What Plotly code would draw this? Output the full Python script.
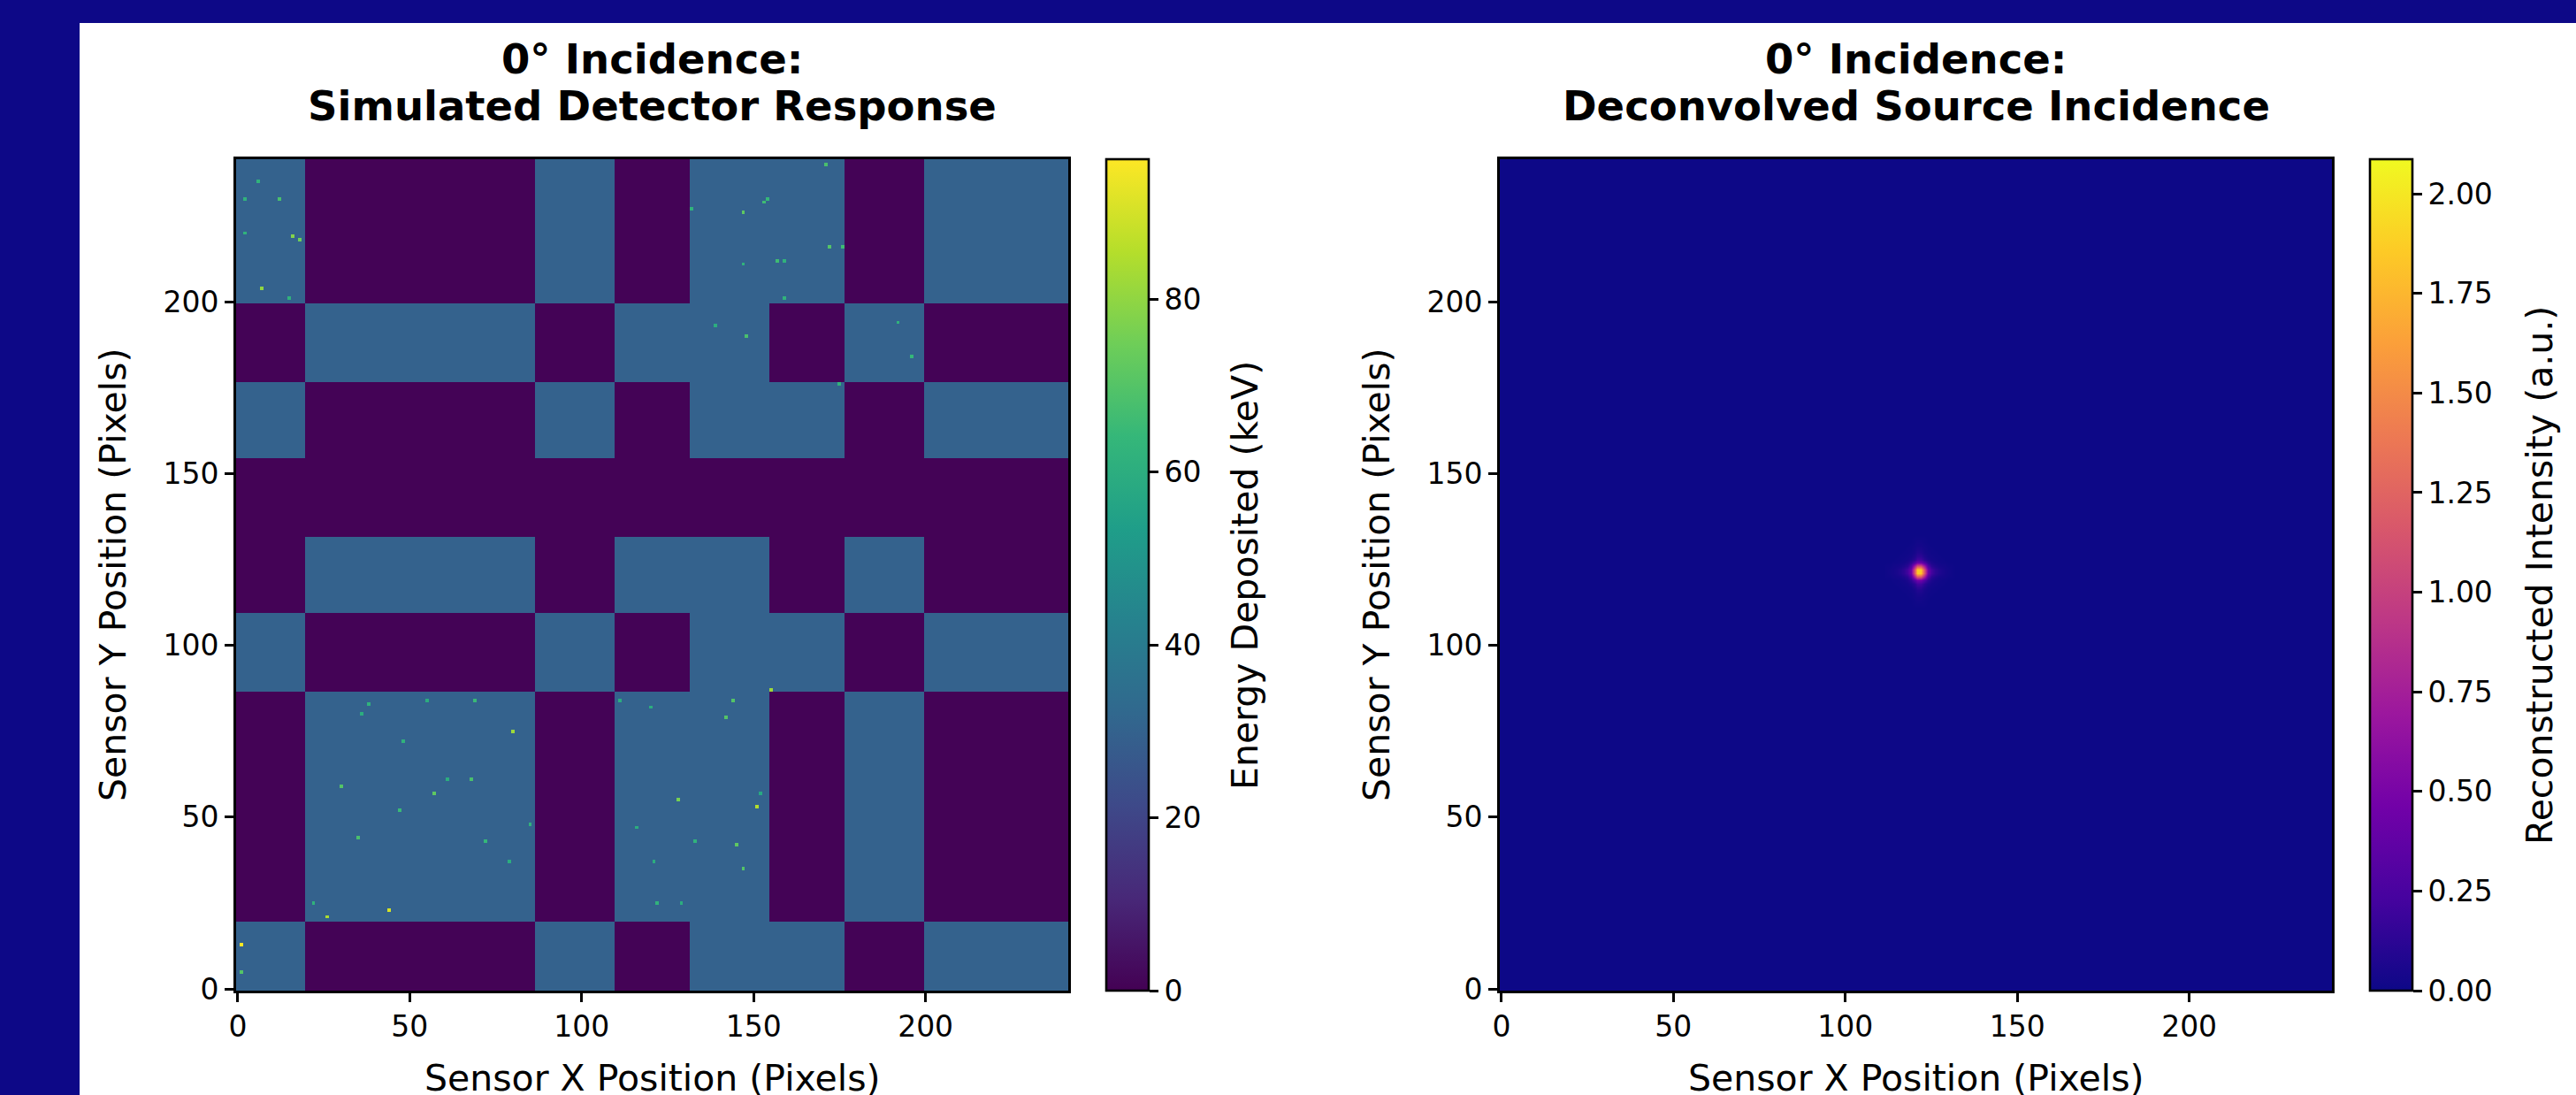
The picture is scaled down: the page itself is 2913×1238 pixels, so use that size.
import plotly.graph_objects as go

# NOTE: the per-pixel noise of the detector image is not reproduced. The left panel
# is drawn from the mask block pattern with estimated mean levels, plus the hot
# pixels that could be read individually from the reference.
N_PIXELS = 242
BAND_EDGES_X = [0, 20, 87, 110, 132, 155, 177, 200, 242]
BAND_EDGES_Y = [0, 20, 87, 110, 132, 155, 177, 200, 242]
MASK_ROWS = [
    [1, 0, 1, 0, 1, 1, 0, 1],
    [0, 1, 0, 1, 1, 0, 1, 0],
    [1, 0, 1, 0, 1, 1, 0, 1],
    [0, 1, 0, 1, 1, 0, 1, 0],
    [0, 0, 0, 0, 0, 0, 0, 0],
    [1, 0, 1, 0, 1, 1, 0, 1],
    [0, 1, 0, 1, 1, 0, 1, 0],
    [1, 0, 1, 0, 1, 1, 0, 1],
]
OPEN_LEVEL_KEV = 30
CLOSED_LEVEL_KEV = 0.6
HOT_X = [44, 26, 80, 68, 57, 30, 47, 48, 38, 55, 69, 72, 85, 22, 36, 61, 35, 79,
         151, 128, 145, 142, 144, 147, 155, 133, 122, 129, 111, 120, 152, 116, 121,
         147, 171, 153, 154, 172, 176, 157, 159, 159, 148, 139, 196, 192, 175, 132, 147,
         16, 18, 7, 2, 12, 6, 2, 15, 1, 1]
HOT_Y = [23, 21, 75, 61, 57, 59, 52, 72, 83, 84, 84, 43, 48, 25, 80, 61, 44, 37,
         53, 55, 42, 79, 84, 35, 87, 43, 25, 25, 84, 82, 57, 47, 37,
         226, 240, 229, 230, 216, 216, 212, 212, 201, 190, 193, 184, 194, 176, 227, 211,
         219, 218, 204, 230, 230, 235, 220, 201, 13, 5]
HOT_KEV = [90, 84, 82, 68, 72, 70, 65, 62, 62, 60, 65, 64, 62, 62, 60, 60, 68, 60,
           85, 76, 72, 70, 70, 70, 82, 62, 62, 60, 60, 60, 58, 60, 60,
           72, 68, 66, 64, 70, 66, 66, 62, 62, 68, 60, 64, 62, 62, 62, 62,
           78, 75, 80, 62, 68, 62, 62, 62, 96, 70]

PEAK_CELLS = [121, 122]
PSF_QUADRANT = [
    [1.85, 1.15, 0.45, 0.22, 0.13, 0.08, 0.05, 0.03, 0.02, 0.01],
    [1.15, 0.75, 0.28, 0.12, 0.07, 0.04, 0.03, 0.02, 0.01, 0.01],
    [0.45, 0.28, 0.13, 0.06, 0.03, 0.02, 0.01, 0.01, 0.00, 0.00],
    [0.22, 0.12, 0.06, 0.03, 0.02, 0.01, 0.01, 0.00, 0.00, 0.00],
    [0.13, 0.07, 0.03, 0.02, 0.01, 0.01, 0.00, 0.00, 0.00, 0.00],
    [0.08, 0.04, 0.02, 0.01, 0.01, 0.00, 0.00, 0.00, 0.00, 0.00],
    [0.05, 0.03, 0.01, 0.01, 0.00, 0.00, 0.00, 0.00, 0.00, 0.00],
    [0.03, 0.02, 0.01, 0.00, 0.00, 0.00, 0.00, 0.00, 0.00, 0.00],
    [0.02, 0.01, 0.00, 0.00, 0.00, 0.00, 0.00, 0.00, 0.00, 0.00],
    [0.01, 0.01, 0.00, 0.00, 0.00, 0.00, 0.00, 0.00, 0.00, 0.00],
]
TICKS = [0, 50, 100, 150, 200]
CB1_TICKS = [0, 20, 40, 60, 80]
CB2_TICKS = [0, 0.25, 0.5, 0.75, 1.0, 1.25, 1.5, 1.75, 2.0]
ZMAX_LEFT = 96.2
ZMAX_RIGHT = 2.087

pixels = list(range(N_PIXELS))

# Detector image
det = [[CLOSED_LEVEL_KEV] * N_PIXELS for _ in pixels]
for r, row in enumerate(MASK_ROWS):
    for c, is_open in enumerate(row):
        if is_open:
            for y in range(BAND_EDGES_Y[r], BAND_EDGES_Y[r + 1]):
                for x in range(BAND_EDGES_X[c], BAND_EDGES_X[c + 1]):
                    det[y][x] = OPEN_LEVEL_KEV
for x, y, v in zip(HOT_X, HOT_Y, HOT_KEV):
    det[y][x] = v

# Deconvolved image: quadrant, mirrored about the peak
rec = [[0.0] * N_PIXELS for _ in pixels]
for j, row in enumerate(PSF_QUADRANT):
    for i, v in enumerate(row):
        for yy in (PEAK_CELLS[0] - j, PEAK_CELLS[1] + j):
            for xx in (PEAK_CELLS[0] - i, PEAK_CELLS[1] + i):
                rec[yy][xx] = v

W, H = 2913, 1238
FONT = "DejaVu Sans"
TICK_SIZE = 33
LABEL_SIZE = 41
TITLE_SIZE = 46.5
AXIS_LW = 2.6


def px(v):
    return v / W


def py(v):
    return 1 - v / H


def cbar(x_left, ticks, fmt):
    return dict(
        x=px(x_left), xanchor="left", xref="paper", xpad=0,
        y=py(1120), yanchor="bottom", yref="paper", ypad=0,
        len=940 / H, lenmode="fraction",
        thickness=48, thicknessmode="pixels",
        outlinecolor="black", outlinewidth=AXIS_LW,
        tickmode="array", tickvals=ticks, tickformat=fmt,
        ticks="outside", ticklen=10, tickwidth=2.5, tickcolor="black",
        tickfont=dict(family=FONT, size=TICK_SIZE, color="black"),
    )


fig = go.Figure()
fig.add_trace(go.Heatmap(
    z=det, x=pixels, y=pixels, colorscale="Viridis", zmin=0, zmax=ZMAX_LEFT,
    colorbar=cbar(1251, CB1_TICKS, "d"), xaxis="x", yaxis="y",
))
fig.add_trace(go.Heatmap(
    z=rec, x=pixels, y=pixels, colorscale="Plasma", zmin=0, zmax=ZMAX_RIGHT, zsmooth="best",
    colorbar=cbar(2680, CB2_TICKS, ".2f"), xaxis="x2", yaxis="y2",
))


def axis(domain, anchor):
    return dict(
        domain=domain, range=[-0.5, N_PIXELS - 0.5], anchor=anchor,
        tickmode="array", tickvals=TICKS, ticks="outside", ticklen=10, tickwidth=2.5,
        tickcolor="black", showgrid=False, zeroline=False,
        showline=True, mirror=True, linecolor="black", linewidth=AXIS_LW,
        tickfont=dict(family=FONT, size=TICK_SIZE, color="black"),
        automargin=False,
    )


def note(text, x, y, size, angle=0):
    return dict(text=text, x=px(x), y=py(y), xref="paper", yref="paper", showarrow=False,
                xanchor="center", yanchor="middle", textangle=angle,
                font=dict(family=FONT, size=size, color="black"))


y_dom = [py(1120), py(180)]
fig.update_layout(
    width=W, height=H, margin=dict(l=0, r=0, t=0, b=0),
    paper_bgcolor="#0d0887", plot_bgcolor="white", showlegend=False,
    xaxis=axis([px(267), px(1208)], "y"),
    yaxis=axis(y_dom, "x"),
    xaxis2=axis([px(1696), px(2637)], "y2"),
    yaxis2=axis(y_dom, "x2"),
    shapes=[dict(type="rect", xref="paper", yref="paper", x0=px(90), x1=1, y0=0, y1=py(26),
                 fillcolor="white", line_width=0, layer="below")],
    annotations=[
        note("<b>0° Incidence:</b>", 737.5, 67, TITLE_SIZE),
        note("<b>Simulated Detector Response</b>", 737.5, 120, TITLE_SIZE),
        note("<b>0° Incidence:</b>", 2166.5, 67, TITLE_SIZE),
        note("<b>Deconvolved Source Incidence</b>", 2166.5, 120, TITLE_SIZE),
        note("Sensor X Position (Pixels)", 737.5, 1219, LABEL_SIZE),
        note("Sensor X Position (Pixels)", 2166.5, 1219, LABEL_SIZE),
        note("Sensor Y Position (Pixels)", 128, 650, LABEL_SIZE, -90),
        note("Sensor Y Position (Pixels)", 1557, 650, LABEL_SIZE, -90),
        note("Energy Deposited (keV)", 1408, 651, LABEL_SIZE, -90),
        note("Reconstructed Intensity (a.u.)", 2872, 651, LABEL_SIZE, -90),
    ],
)
fig.write_html("out.html", config={"displayModeBar": False},
               post_script="document.body.style.margin='0';")
